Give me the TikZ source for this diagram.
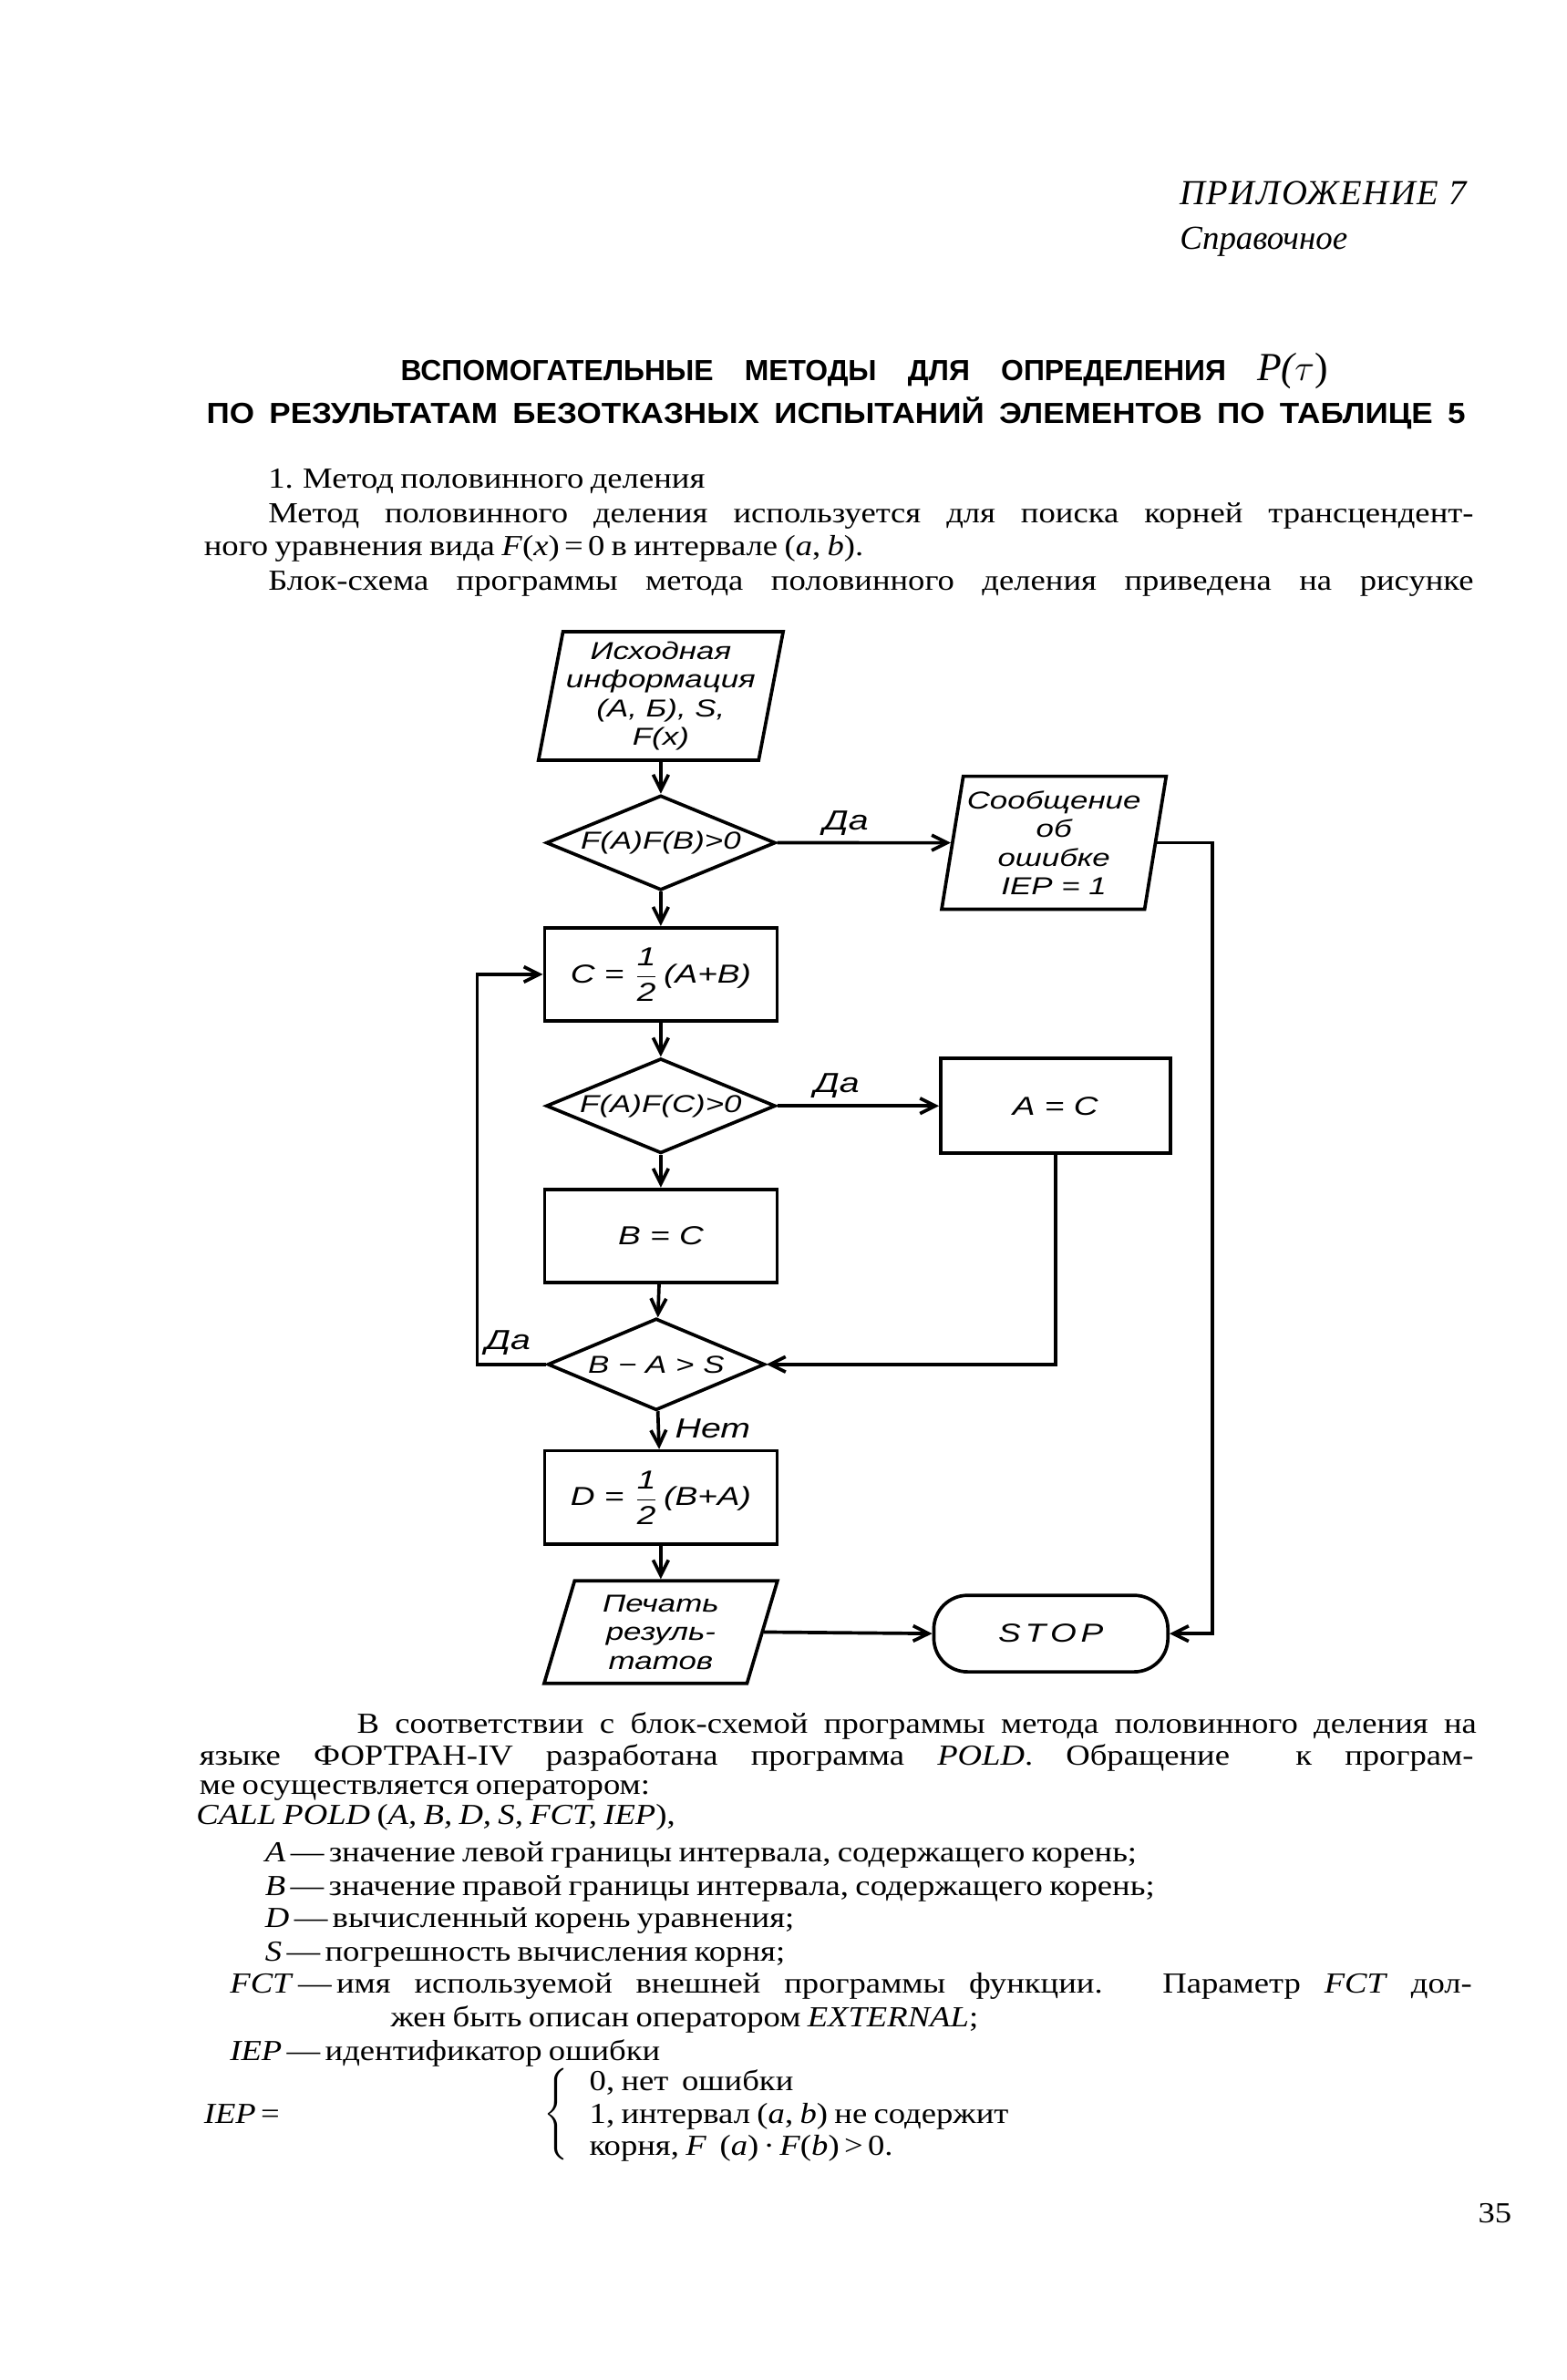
\documentclass[tikz,border=0pt]{standalone}
\usepackage{fontspec}
\setmainfont[FakeStretch=1.15, WordSpace=0.8]{Liberation Serif}
\newfontfamily\capfont{Liberation Serif}
\newfontfamily\headfont{Liberation Sans}
\newfontfamily\wideheadfont[FakeStretch=1.1]{Liberation Sans}
\newfontfamily\handfont[FakeStretch=1.3]{Liberation Sans}
\usepackage{tikz}
\usetikzlibrary{positioning,calc,shapes.geometric,arrows.meta}

\begin{document}
\begin{tikzpicture}[
  x=0.5pt, y=-0.5pt,
  procbox/.style={
    rectangle, draw=black, line width=1.1pt,
    minimum width=76pt, minimum height=30.5pt, inner sep=1pt,
    font=\handfont\itshape\fontsize{8.5}{9}\selectfont
  },
  decide/.style={
    diamond, draw=black, line width=1.1pt, shape aspect=2.5,
    minimum width=75pt, minimum height=31pt, inner sep=0pt,
    font=\handfont\itshape\fontsize{8}{8.8}\selectfont
  },
  iobox/.style={
    trapezium, trapezium stretches=true, draw=black, line width=1.1pt,
    inner sep=1pt, align=center,
    font=\handfont\itshape\fontsize{8}{9.4}\selectfont
  },
  stopnode/.style={
    rectangle, rounded corners=11pt, draw=black, line width=1.1pt,
    minimum width=76.5pt, minimum height=25pt,
    font=\handfont\itshape\fontsize{8.5}{9}\selectfont
  },
  yesno/.style={font=\handfont\itshape\fontsize{9}{10}\selectfont, inner sep=0pt},
  flow/.style={line width=1.1pt, -{Straight Barb[length=5pt,width=5pt]}},
  bodytext/.style={anchor=base west, inner sep=0pt, font=\fontsize{9.5}{11}\selectfont}
]
\useasboundingbox (0,0) rectangle (1024,1556);

% --- header ---
\node[anchor=base west, inner sep=0pt, font=\capfont\itshape\fontsize{11.5}{12}\selectfont] (app) at (771,134)
  {\addfontfeature{LetterSpace=4}ПРИЛОЖЕНИЕ 7};
\node[anchor=base west, inner sep=0pt, font=\capfont\itshape\fontsize{11}{12}\selectfont] (ref) at (771,163) {Справочное};

\node[anchor=base, inner sep=0pt, font=\headfont\bfseries\fontsize{9.5}{10}\selectfont] (title1) at (565,249)
  {\makebox[303pt][s]{ВСПОМОГАТЕЛЬНЫЕ МЕТОДЫ ДЛЯ ОПРЕДЕЛЕНИЯ {\capfont\itshape\mdseries\fontsize{13}{13}\selectfont P(}{\fontsize{13}{13}\selectfont$\tau$}{\capfont\mdseries\fontsize{13}{13}\selectfont )}}};
\node[anchor=base, inner sep=0pt, font=\wideheadfont\bfseries\fontsize{9.5}{10}\selectfont] (title2) at (546.5,277)
  {\makebox[411.5pt][s]{ПО РЕЗУЛЬТАТАМ БЕЗОТКАЗНЫХ ИСПЫТАНИЙ ЭЛЕМЕНТОВ ПО ТАБЛИЦЕ 5}};

% --- text above the chart ---
\node[bodytext] (p1) at (175,319) {1. Метод половинного деления};
\node[bodytext] (p2) at (175,342) {\makebox[394pt][s]{Метод половинного деления используется для поиска корней трансцендент-}};
\node[bodytext] (p3) at (133,363) {ного уравнения вида \textit{F}(\textit{x})\,=\,0 в интервале (\textit{a}, \textit{b}).};
\node[bodytext] (p4) at (175,386) {\makebox[394pt][s]{Блок-схема программы метода половинного деления приведена на рисунке}};

% --- block chart ---
\node[iobox, trapezium left angle=78, trapezium right angle=102, minimum width=76.5pt, minimum height=42pt] (in) at (432,455)
  {Исходная\\информация\\(A, Б), S,\\F(x)};
\node[decide] (d1) at (432,551) {F(A)F(B)>0};
\node[iobox, trapezium left angle=79, trapezium right angle=101, minimum width=73.5pt, minimum height=43.5pt] (msg) at (689,551)
  {Сообщение\\об\\ошибке\\IEP = 1};
\node[procbox] (cbox) at (432,637) {C = $\displaystyle\frac{\mbox{1}}{\mbox{2}}$\,(A+B)};
\node[decide] (d2) at (432,723) {F(A)F(C)>0};
\node[procbox, minimum width=75pt, minimum height=31pt] (abox) at (690,723) {A = C};
\node[procbox] (bbox) at (432,808) {B = C};
\node[decide, minimum width=71pt, minimum height=30pt] (d3) at (429,892) {B − A > S};
\node[procbox] (dbox) at (432,979) {D = $\displaystyle\frac{\mbox{1}}{\mbox{2}}$\,(B+A)};
\node[iobox, trapezium left angle=75, trapezium right angle=105, minimum width=76.5pt, minimum height=33.5pt] (print) at (432,1067)
  {Печать\\резуль-\\татов};
\node[stopnode] (stop) at (687,1068) {S\,T\,O\,P};

\node[yesno] (yes1) at (553,538) {Да};
\node[yesno] (yes2) at (547,710) {Да};
\node[yesno] (yes3) at (332,878) {Да};
\node[yesno] (no3) at (466,934) {Нет};

\draw[flow] (in) -- (d1);
\draw[flow] (d1.east) -- (msg.west);
\draw[flow] (msg.east) -- ++(36,0) |- (stop.east);
\draw[flow] (d1) -- (cbox);
\draw[flow] (cbox) -- (d2);
\draw[flow] (d2.east) -- (abox.west);
\draw[flow] (d2) -- (bbox);
\draw[flow] (bbox) -- (d3);
\draw[flow] (abox.south) |- (d3.east);
\draw[flow] (d3.west) -- ++(-45,0) |- (cbox.west);
\draw[flow] (d3) -- (dbox);
\draw[flow] (dbox) -- (print);
\draw[flow] (print.east) -- (stop.west);

% --- text below the chart ---
\node[bodytext] (q1) at (233,1133) {\makebox[366pt][s]{В соответствии с блок-схемой программы метода половинного деления на}};
\node[bodytext] (q2) at (130,1154) {\makebox[416.5pt][s]{языке ФОРТРАН-IV разработана программа \textit{POLD}. Обращение \ к програм-}};
\node[bodytext] (q3) at (130,1173) {ме осуществляется оператором:};
\node[bodytext] (q4) at (128,1193) {\textit{CALL POLD} (\textit{A, B, D, S, FCT, IEP}),};
\node[bodytext] (q5) at (173,1217) {\textit{A}\,—\,значение левой границы интервала, содержащего корень;};
\node[bodytext] (q6) at (173,1239) {\textit{B}\,—\,значение правой границы интервала, содержащего корень;};
\node[bodytext] (q7) at (173,1260) {\textit{D}\,—\,вычисленный корень уравнения;};
\node[bodytext] (q8) at (173,1282) {\textit{S}\,—\,погрешность вычисления корня;};
\node[bodytext] (q9) at (150,1303) {\makebox[406pt][s]{\textit{FCT}\,—\,имя используемой внешней программы функции. Параметр \textit{FCT} дол-}};
\node[bodytext] (q10) at (255,1325) {жен быть описан оператором \textit{EXTERNAL};};
\node[bodytext] (q11) at (150,1347) {\textit{IEP}\,—\,идентификатор ошибки};
\node[bodytext] (iep) at (133,1388) {\textit{IEP}\,=};
\node[inner sep=0pt, anchor=east] (brace) at (372,1382) {$\Bigg\{$};
\node[bodytext] (c0) at (385,1367) {0, нет \ ошибки};
\node[bodytext] (c1) at (385,1388) {1, интервал (\textit{a}, \textit{b}) не содержит};
\node[bodytext] (c2) at (385,1409) {корня, \textit{F} \ (\textit{a})\,·\,\textit{F}(\textit{b})\,>\,0.};

\node[bodytext] (page) at (966,1453) {35};
\end{tikzpicture}
\end{document}
